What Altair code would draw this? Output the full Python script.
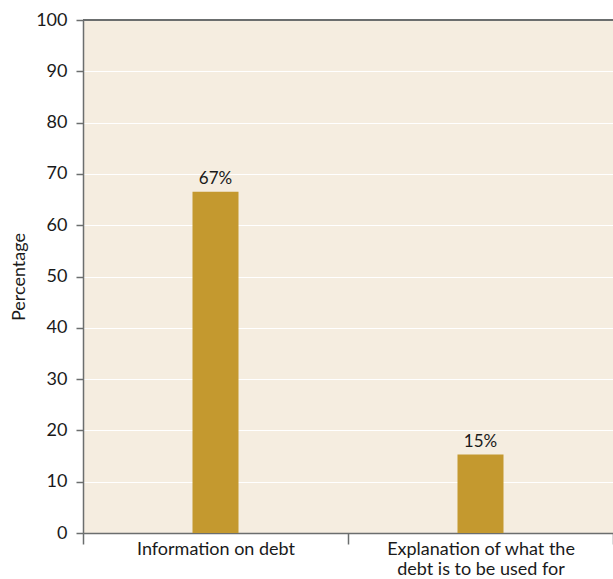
import altair as alt
import pandas as pd

categories = ["Information on debt", "Explanation of what the debt is to be used for"]
values = [66.5, 15.3]
value_labels = ["67%", "15%"]
y_ticks = [0, 10, 20, 30, 40, 50, 60, 70, 80, 90, 100]

df = pd.DataFrame({"category": categories, "value": values, "label": value_labels})

FONT = "Lato"
GREY = "#6b6e6e"
BAR = "#C4992F"
BG = "#F5EDE0"

label_expr = (
    "datum.value == 'Explanation of what the debt is to be used for' ? "
    "['Explanation of what the', 'debt is to be used for'] : datum.value"
)

x = alt.X(
    "category:N",
    sort=categories,
    scale=alt.Scale(paddingInner=0, paddingOuter=0),
    axis=alt.Axis(
        title=None,
        labelAngle=0,
        labelExpr=label_expr,
        labelFont=FONT,
        labelFontSize=18,
        labelColor="#1a1a1a",
        labelLimit=400,
        labelLineHeight=20,
        labelPadding=-4,
        tickBand="extent",
        tickSize=11,
        tickColor=GREY,
        tickWidth=1.5,
        domainColor=GREY,
        domainWidth=1.5,
        grid=False,
    ),
)

y = alt.Y(
    "value:Q",
    scale=alt.Scale(domain=[0, 100], nice=False),
    axis=alt.Axis(
        title="Percentage",
        titleFont=FONT,
        titleFontSize=18,
        titleFontWeight="normal",
        titleColor="#1a1a1a",
        titleX=-55,
        values=y_ticks,
        labelFont=FONT,
        labelFontSize=18,
        labelColor="#1a1a1a",
        labelPadding=9,
        tickSize=7,
        tickColor=GREY,
        tickWidth=1.5,
        domainColor=GREY,
        domainWidth=1.5,
        grid=True,
        gridColor="white",
        gridWidth=1.2,
    ),
)

bars = alt.Chart(df).mark_bar(size=46, color=BAR).encode(x=x, y=y)

text = alt.Chart(df).mark_text(
    dy=-8, font=FONT, fontSize=17, color="#1a1a1a", baseline="alphabetic"
).encode(x=alt.X("category:N", sort=categories), y="value:Q", text="label:N")

top_rule = alt.Chart(df).mark_rule(color=GREY, strokeWidth=2).encode(
    y=alt.datum(100)
)

chart = (
    alt.layer(bars, text, top_rule)
    .properties(
        width=530,
        height=513,
        autosize=alt.AutoSizeParams(type="none"),
        padding={"left": 83, "top": 20, "right": 0, "bottom": 46},
        background="white",
    )
    .configure_view(fill=BG, stroke=None)
)

chart.save("out.html", embed_options={"renderer": "svg", "actions": False})
